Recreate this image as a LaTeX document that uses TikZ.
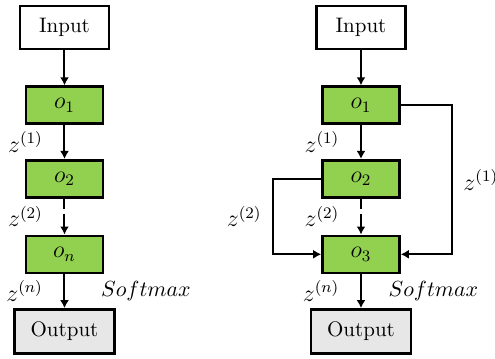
\documentclass[tikz,border=0pt]{standalone}
\usepackage{tikz}
\usetikzlibrary{positioning, arrows.meta, calc}
\definecolor{layer}{HTML}{92D050}
\definecolor{outfill}{HTML}{E7E7E7}

\begin{document}
\begin{tikzpicture}[
    x=0.5pt, y=-0.5pt,
    box/.style={draw=black, line width=1.3pt, inner sep=0pt},
    inbox/.style={box, minimum width=44.5pt, minimum height=21.5pt,
        font=\fontsize{10.5}{12}\selectfont},
    outbox/.style={inbox, fill=outfill, minimum width=50pt, minimum height=22pt},
    layerbox/.style={box, fill=layer, minimum width=38.5pt, minimum height=18.5pt,
        font=\large},
    arr/.style={-{Latex[length=4pt, width=4.5pt]}, line width=1pt},
    gap/.style={dash pattern=on 5pt off 2.5pt on 30pt},
    zlab/.style={left=7pt, font=\large},
    soft/.style={font=\fontsize{10.5}{12}\selectfont},
  ]
  \useasboundingbox (0,0) rectangle (495,359);

  % plain stack
  \node[inbox] (input1) at (64.5,27.5) {Input};
  \node[layerbox, below=17.5pt of input1] (o11) {$o_1$};
  \node[layerbox, below=17pt of o11] (o12) {$o_2$};
  \node[layerbox, below=18pt of o12] (o1n) {$o_n$};
  \node[outbox, below=17pt of o1n] (output1) {Output};

  \draw[arr] (input1) -- (o11);
  \draw[arr] (o11) -- node[zlab] {$z^{(1)}$} (o12);
  \draw[arr, gap] (o12) -- node[zlab] {$z^{(2)}$} (o1n);
  \draw[arr] (o1n) -- node[zlab] {$z^{(n)}$}
    node[soft, right=14.5pt] {$Softmax$} (output1);

  % stack with skip links
  \node[inbox] (input2) at (361,27.5) {Input};
  \node[layerbox, below=17.5pt of input2] (o21) {$o_1$};
  \node[layerbox, below=17pt of o21] (o22) {$o_2$};
  \node[layerbox, below=18pt of o22] (o23) {$o_3$};
  \node[outbox, below=17pt of o23] (output2) {Output};

  \draw[arr] (input2) -- (o21);
  \draw[arr] (o21) -- node[zlab] {$z^{(1)}$} (o22);
  \draw[arr, gap] (o22) -- node[zlab] {$z^{(2)}$} (o23);
  \draw[arr] (o23) -- node[zlab] {$z^{(n)}$}
    node[soft, right=10pt] {$Softmax$} (output2);

  \draw[arr] (o21.east) -- ++(25.5pt,0pt)
    |- node[pos=0.25, right=2pt, font=\large] {$z^{(1)}$} (o23.east);
  \draw[arr] (o22.west) -- ++(-24pt,0pt)
    |- node[pos=0.25, left=2pt, font=\large] {$z^{(2)}$} (o23.west);
\end{tikzpicture}
\end{document}
